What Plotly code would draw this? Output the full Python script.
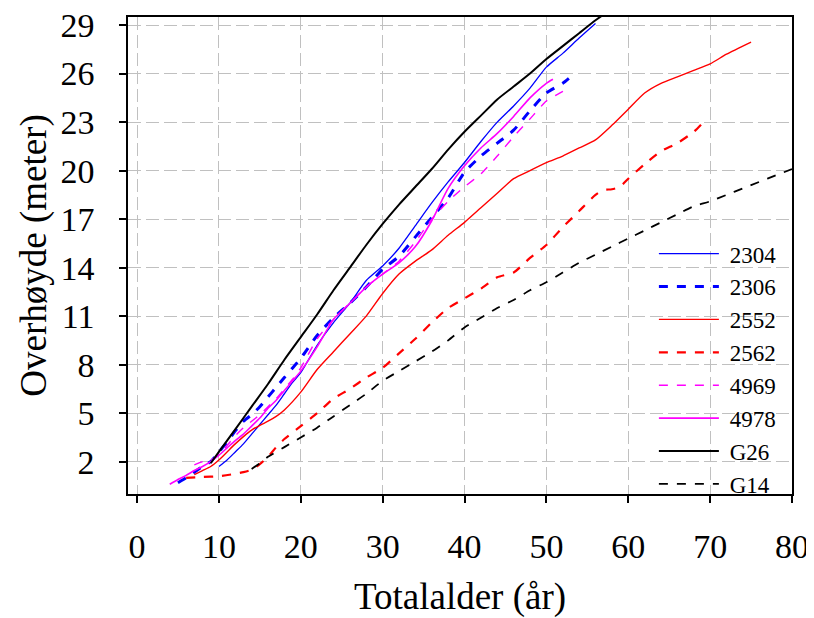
import plotly.graph_objects as go

# ---- data ----
x_2304 = [10, 11, 12, 13, 14, 15, 16, 17, 18, 19, 20, 22, 24, 26, 28, 30, 32, 34, 36, 38, 40, 42, 44, 46, 48, 50, 52, 54, 56]
y_2304 = [1.7, 2.1, 2.6, 3.1, 3.7, 4.3, 4.9, 5.5, 6.2, 6.9, 7.5, 9.2, 10.6, 11.8, 13.2, 14.1, 15.2, 16.6, 18.0, 19.3, 20.5, 21.8, 23.0, 24.0, 25.1, 26.4, 27.25, 28.2, 29.1]

x_2306 = [5, 6, 7, 8, 9, 10, 11, 12, 13, 14, 15, 16, 17, 18, 20, 22, 24, 26, 28, 30, 32, 34, 36, 38, 40, 42, 44, 46, 48, 50, 52, 53.2]
y_2306 = [0.7, 1.0, 1.35, 1.7, 2.0, 2.6, 3.2, 3.9, 4.5, 4.9, 5.4, 6.0, 6.6, 7.2, 8.4, 9.8, 10.9, 11.8, 12.8, 13.9, 14.7, 15.9, 17.1, 18.3, 19.9, 20.9, 21.7, 22.5, 23.7, 24.8, 25.4, 25.9]

x_2552 = [7, 8, 9, 10, 11, 12, 13, 14, 15, 16, 17, 18, 20, 22, 24, 26, 28, 30, 32, 34, 36, 38, 40, 42, 44, 46, 48, 50, 52, 54, 56, 58, 60, 62, 64, 66, 68, 70, 72, 75]
y_2552 = [1.2, 1.45, 1.7, 2.1, 2.6, 3.1, 3.55, 3.95, 4.25, 4.5, 4.8, 5.2, 6.3, 7.7, 8.8, 9.9, 11.0, 12.4, 13.6, 14.4, 15.1, 16.0, 16.8, 17.7, 18.6, 19.5, 20.0, 20.5, 20.9, 21.4, 21.9, 22.8, 23.8, 24.8, 25.4, 25.8, 26.2, 26.6, 27.2, 27.95]

x_2562 = [6, 8, 10, 12, 13, 14, 15, 16, 17, 18, 20, 22, 24, 26, 28, 30, 32, 34, 36, 38, 40, 42, 44, 46, 48, 50, 52, 54, 56, 57, 58, 59, 60, 62, 64, 66, 68, 69]
y_2562 = [1.0, 1.05, 1.1, 1.25, 1.35, 1.5, 1.85, 2.3, 2.9, 3.4, 4.2, 5.0, 5.9, 6.5, 7.2, 7.8, 8.7, 9.6, 10.6, 11.5, 12.1, 12.7, 13.4, 13.7, 14.6, 15.4, 16.5, 17.5, 18.5, 18.8, 18.85, 19.0, 19.5, 20.4, 21.2, 21.7, 22.4, 22.9]

x_4969 = [7, 8, 9, 10, 11, 12, 13, 14, 15, 16, 17, 18, 19, 20, 22, 24, 26, 28, 30, 32, 34, 36, 38, 40, 42, 44, 46, 48, 50, 52, 52.9]
y_4969 = [1.8, 2.0, 2.1, 2.4, 3.0, 3.6, 4.1, 4.5, 4.9, 5.4, 5.9, 6.5, 7.1, 7.8, 9.6, 10.8, 11.8, 12.8, 13.6, 14.4, 15.6, 17.0, 18.1, 19.0, 19.8, 20.9, 22.1, 23.2, 24.3, 24.9, 25.15]

x_4978 = [4, 5, 6, 7, 8, 9, 10, 11, 12, 13, 14, 15, 16, 17, 18, 19, 20, 22, 24, 26, 28, 30, 32, 34, 36, 38, 40, 42, 44, 46, 48, 50, 50.8]
y_4978 = [0.6, 0.9, 1.15, 1.45, 1.7, 2.0, 2.4, 2.85, 3.3, 3.7, 4.2, 4.7, 5.3, 5.8, 6.4, 7.0, 7.6, 9.1, 10.8, 11.8, 12.8, 13.6, 14.3, 15.3, 16.9, 18.9, 20.3, 21.4, 22.3, 23.35, 24.5, 25.4, 25.65]

x_G26 = [9, 10, 12, 14, 16, 18, 20, 22, 24, 26, 28, 30, 32, 34, 36, 38, 40, 42, 44, 46, 48, 50, 52, 54, 56, 58]
y_G26 = [1.9, 2.6, 4.0, 5.4, 6.8, 8.3, 9.7, 11.1, 12.6, 14.0, 15.4, 16.7, 17.9, 19.0, 20.1, 21.3, 22.4, 23.4, 24.4, 25.2, 26.0, 26.9, 27.7, 28.5, 29.3, 30.0]

x_G14 = [14, 15, 16, 18, 20, 22, 24, 26, 28, 30, 32, 34, 36, 38, 40, 42, 44, 46, 48, 50, 52, 54, 56, 58, 60, 62, 64, 66, 68, 70, 72, 74, 76, 78, 80]
y_G14 = [1.55, 1.9, 2.3, 2.9, 3.5, 4.1, 4.8, 5.5, 6.2, 7.0, 7.6, 8.2, 8.8, 9.5, 10.3, 10.9, 11.5, 12.0, 12.6, 13.1, 13.7, 14.3, 14.8, 15.3, 15.8, 16.3, 16.8, 17.3, 17.8, 18.1, 18.5, 18.9, 19.3, 19.7, 20.1]

x_ticks = [0, 10, 20, 30, 40, 50, 60, 70, 80]
y_ticks = [2, 5, 8, 11, 14, 17, 20, 23, 26, 29]

series = [
    ("2304", x_2304, y_2304, "#0000ff", "solid", 1.3),
    ("2306", x_2306, y_2306, "#0000ff", "dash", 3.0),
    ("2552", x_2552, y_2552, "#ff0000", "solid", 1.4),
    ("2562", x_2562, y_2562, "#ff0000", "dash", 2.2),
    ("4969", x_4969, y_4969, "#ff00ff", "dash", 1.4),
    ("4978", x_4978, y_4978, "#ff00ff", "solid", 1.6),
    ("G26", x_G26, y_G26, "#000000", "solid", 2.0),
    ("G14", x_G14, y_G14, "#000000", "dash", 1.8),
]

fig = go.Figure()
for name, xs, ys, col, dash, w in series:
    fig.add_trace(go.Scatter(
        x=xs, y=ys, name="\u00a0" + name, mode="lines",
        line=dict(color=col, dash=dash, width=w, shape="spline", smoothing=0.6),
    ))

font_family = "Liberation Serif, Times New Roman, serif"
axis_common = dict(
    showline=True, linecolor="black", linewidth=1.5, mirror=True,
    showgrid=True, gridcolor="#c0c0c0", gridwidth=1, griddash="13px,5px",
    zeroline=False, ticks="outside", ticklen=7, tickcolor="black", tickwidth=1.5,
    tickfont=dict(family=font_family, size=34, color="black"),
    automargin=False, ticklabeloverflow="allow",
)

# the page body adds an 8px offset, so the figure is 8px smaller on each axis
fig.update_layout(
    width=806, height=610,
    margin=dict(l=120, r=22, t=9, b=124),
    paper_bgcolor="white", plot_bgcolor="white",
    font=dict(family=font_family, color="black"),
    showlegend=True,
    legend=dict(
        x=0.792, y=0.549, xanchor="left", yanchor="top",
        bgcolor="rgba(0,0,0,0)", borderwidth=0,
        font=dict(family=font_family, size=23, color="black"),
        itemwidth=60, tracegroupgap=0,
    ),
    xaxis=dict(
        range=[-1.1, 80], tickvals=x_ticks, ticktext=[str(v) for v in x_ticks],
        title=dict(text="Totalalder (år)", font=dict(family=font_family, size=37), standoff=20),
        ticklabelstandoff=14,
        **axis_common,
    ),
    yaxis=dict(
        range=[0, 29.5], tickvals=y_ticks, ticktext=[str(v) for v in y_ticks],
        title=dict(text="Overhøyde (meter)", font=dict(family=font_family, size=37), standoff=3),
        ticklabelstandoff=18,
        **axis_common,
    ),
)

fig.write_html("out.html")
